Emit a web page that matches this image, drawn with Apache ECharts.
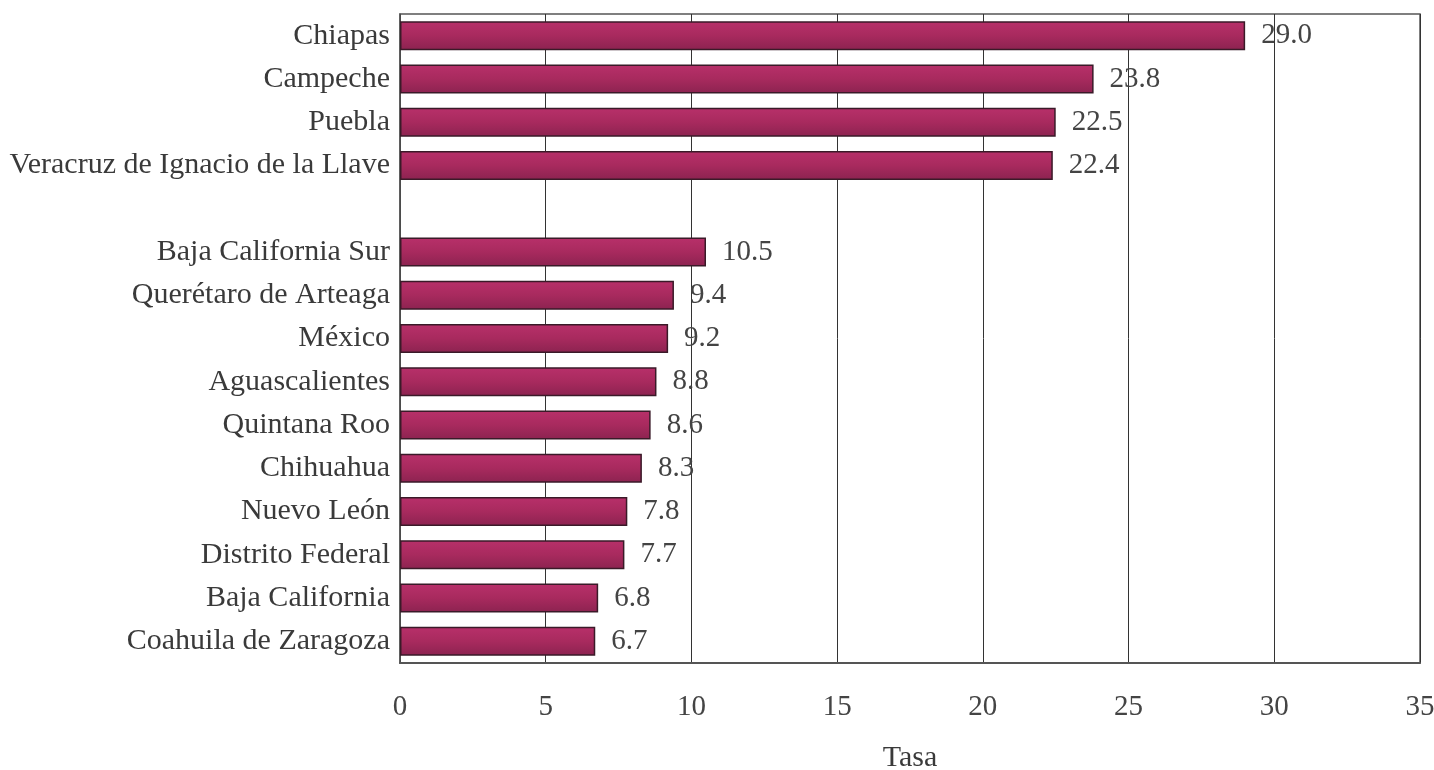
<!DOCTYPE html>
<html><head><meta charset="utf-8">
<script src="https://cdn.jsdelivr.net/npm/echarts@6/dist/echarts.min.js"></script>
<style>html,body{margin:0;padding:0;background:#fff}#c{width:1434px;height:770px}</style>
</head><body><div id="c"></div>
<script>
const categories = ['Chiapas','Campeche','Puebla','Veracruz de Ignacio de la Llave','',
  'Baja California Sur','Querétaro de Arteaga','México','Aguascalientes','Quintana Roo',
  'Chihuahua','Nuevo León','Distrito Federal','Baja California','Coahuila de Zaragoza'];
const values = [29.0,23.8,22.5,22.4,null,10.5,9.4,9.2,8.8,8.6,8.3,7.8,7.7,6.8,6.7];
const xTicks = [0,5,10,15,20,25,30,35];
const axisTitle = 'Tasa';

const font = '"Liberation Serif","DejaVu Serif",serif';
const chart = echarts.init(document.getElementById('c'));
chart.setOption({
  animation:false,
  grid:{left:400,right:14,top:14,bottom:107,show:true,borderColor:'#555',borderWidth:1.5,
    outerBoundsMode:'none',containLabel:false},
  xAxis:{type:'value',min:0,max:35,interval:5,
    name:axisTitle,nameLocation:'middle',nameGap:80,
    nameTextStyle:{fontFamily:font,fontSize:30,color:'#3a3a3a'},
    axisLine:{show:true,lineStyle:{color:'#555',width:2}},
    axisTick:{show:false},
    splitLine:{show:true,lineStyle:{color:'#333',width:1}},
    axisLabel:{margin:30,fontFamily:font,fontSize:29,color:'#444'}
  },
  yAxis:{type:'category',data:categories,inverse:true,
    axisLine:{show:true,lineStyle:{color:'#555',width:1.5}},
    axisTick:{show:false},
    axisLabel:{margin:10,fontFamily:font,fontSize:30,color:'#3a3a3a'}
  },
  series:[{type:'bar',data:values,barWidth:29,
    itemStyle:{color:new echarts.graphic.LinearGradient(0,0,0,1,[
      {offset:0,color:'#b8306a'},{offset:0.5,color:'#a82a5e'},{offset:1,color:'#8c2350'}]),
      borderColor:'#3a1a28',borderWidth:1.5},
    label:{show:true,position:'right',distance:16,fontFamily:font,fontSize:29,color:'#444',
      formatter:p=>p.value==null?'':p.value.toFixed(1)}
  }]
});
</script></body></html>
